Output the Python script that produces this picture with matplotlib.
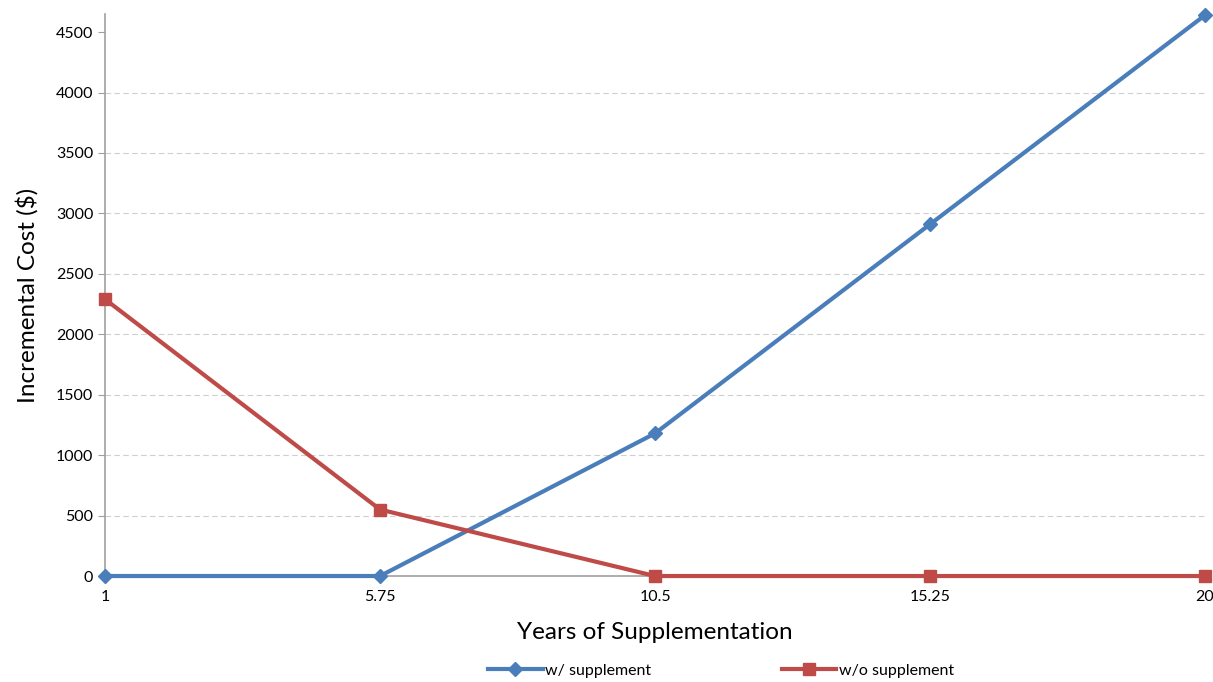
import matplotlib
matplotlib.use("Agg")
import matplotlib.pyplot as plt

plt.rcParams['font.family'] = ['Lato', 'DejaVu Sans']

years = ["1", "5.75", "10.5", "15.25", "20"]
with_supp = [0, 0, 1180, 2910, 4640]
without_supp = [2290, 550, 0, 0, 0]
yticks = [0, 500, 1000, 1500, 2000, 2500, 3000, 3500, 4000, 4500]

fig = plt.figure(figsize=(12.13, 6.82), dpi=100)
ax = fig.add_axes([0.0866, 0.1554, 0.9068, 0.8241])

x = list(range(len(years)))
ax.plot(x, with_supp, color="#4A7EBB", lw=3, marker="D", ms=7, label="w/ supplement", clip_on=False, zorder=3)
ax.plot(x, without_supp, color="#BE4B48", lw=3, marker="s", ms=8, label="w/o supplement", clip_on=False, zorder=3)

ax.set_xlim(0, len(years) - 1)
ax.set_ylim(0, 4650)
ax.set_xticks(x)
ax.set_xticklabels(years)
ax.set_yticks(yticks)
ax.tick_params(axis="x", length=0, pad=10, labelsize=11.5)
ax.tick_params(axis="y", length=5, color="#A0A0A0", labelsize=11.5)

ax.yaxis.grid(True, linestyle=(0, (5, 3)), color="#CFCFCF", lw=0.8)
ax.get_ygridlines()[-1].set_visible(False)
ax.get_ygridlines()[0].set_visible(False)
ax.set_axisbelow(True)

for s in ["top", "right"]:
    ax.spines[s].set_visible(False)
for s in ["left", "bottom"]:
    ax.spines[s].set_color("#A0A0A0")
    ax.spines[s].set_linewidth(1.2)

ax.set_xlabel("Years of Supplementation", fontsize=17.5, labelpad=13)
ax.set_ylabel("Incremental Cost ($)", fontsize=17.5, labelpad=12)

ax.legend(loc="upper center", bbox_to_anchor=(0.56, -0.13), ncol=2, frameon=False,
          fontsize=11.5, handlelength=3.4, columnspacing=8.2, handletextpad=0.15)

fig.savefig("out.png", dpi=100)
